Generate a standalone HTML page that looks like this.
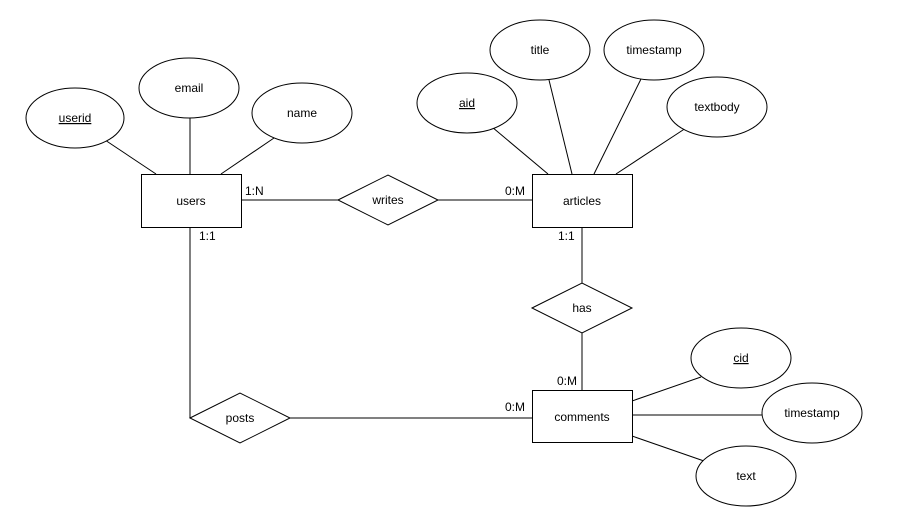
<!DOCTYPE html>
<html><head><meta charset="utf-8"><style>
html,body{margin:0;padding:0;background:#fff;}
svg{display:block;}
text{font-family:"Liberation Sans",Arial,sans-serif;font-size:12px;fill:#000;}
</style></head><body>
<svg width="899" height="517" viewBox="0 0 899 517" xmlns="http://www.w3.org/2000/svg">
<g stroke="#000" stroke-width="1" fill="none">
<line x1="105" y1="140" x2="156" y2="174"/>
<line x1="190" y1="118" x2="190" y2="174"/>
<line x1="274" y1="138" x2="221" y2="174"/>
<line x1="241" y1="200" x2="338" y2="200"/>
<line x1="438" y1="200" x2="532" y2="200"/>
<line x1="492" y1="127" x2="548" y2="174"/>
<line x1="549" y1="80" x2="572" y2="174"/>
<line x1="641" y1="79" x2="594" y2="174"/>
<line x1="686" y1="128" x2="616" y2="174"/>
<line x1="582" y1="228" x2="582" y2="283"/>
<line x1="582" y1="333" x2="582" y2="390"/>
<line x1="190" y1="228" x2="190" y2="418"/>
<line x1="290" y1="418" x2="532" y2="418"/>
<line x1="701" y1="377" x2="632" y2="401"/>
<line x1="762" y1="415" x2="632" y2="415"/>
<line x1="704" y1="461" x2="632" y2="436"/>
</g>
<g stroke="#000" stroke-width="1" fill="#fff">
<rect x="141.5" y="174.5" width="100" height="53"/>
<rect x="532.5" y="174.5" width="100" height="53"/>
<rect x="532.5" y="390.5" width="100" height="52"/>
<polygon points="338,200 388,175 438,200 388,225"/>
<polygon points="532,308 582,283 632,308 582,333"/>
<polygon points="190,418 240,393 290,418 240,443"/>
<ellipse cx="75" cy="118" rx="49" ry="30"/>
<ellipse cx="189" cy="88" rx="50" ry="30"/>
<ellipse cx="302" cy="113" rx="50" ry="30"/>
<ellipse cx="467" cy="103" rx="50" ry="30"/>
<ellipse cx="540" cy="50" rx="50" ry="30"/>
<ellipse cx="654" cy="50" rx="50" ry="30"/>
<ellipse cx="717" cy="107" rx="50" ry="30"/>
<ellipse cx="741" cy="358" rx="50" ry="30"/>
<ellipse cx="812" cy="413" rx="50" ry="30"/>
<ellipse cx="746" cy="476" rx="50" ry="30"/>
</g>
<g text-anchor="middle">
<text x="191" y="205">users</text>
<text x="582" y="205">articles</text>
<text x="582" y="421">comments</text>
<text x="388" y="204">writes</text>
<text x="582" y="312">has</text>
<text x="240" y="422">posts</text>
<text x="75" y="122" text-decoration="underline">userid</text>
<text x="189" y="92">email</text>
<text x="302" y="117">name</text>
<text x="467" y="107" text-decoration="underline">aid</text>
<text x="540" y="54">title</text>
<text x="654" y="54">timestamp</text>
<text x="717" y="111">textbody</text>
<text x="741" y="362" text-decoration="underline">cid</text>
<text x="812" y="417">timestamp</text>
<text x="746" y="480">text</text>
</g>
<text x="245" y="195">1:N</text>
<text x="505" y="195">0:M</text>
<text x="199" y="240">1:1</text>
<text x="558" y="240">1:1</text>
<text x="557" y="385">0:M</text>
<text x="505" y="411">0:M</text>
</svg>
</body></html>
